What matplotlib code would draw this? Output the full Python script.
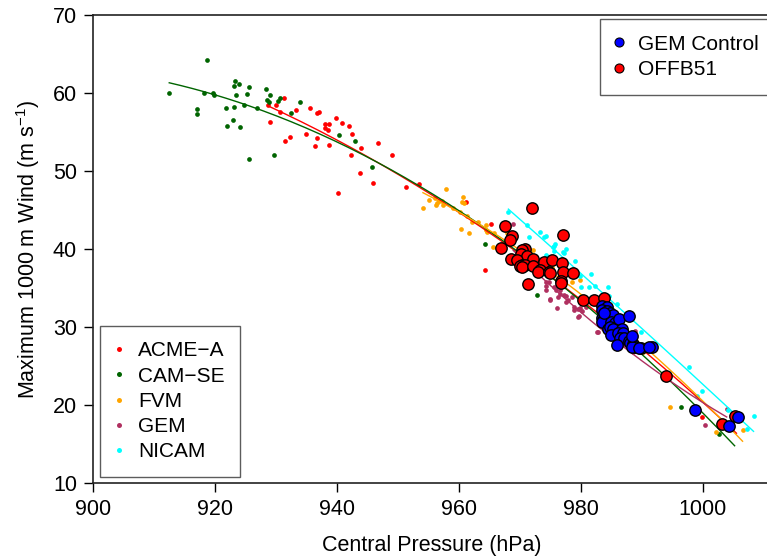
import numpy as np
import matplotlib
matplotlib.use("Agg")
import matplotlib.pyplot as plt
from matplotlib.lines import Line2D

plt.rcParams['font.family'] = ['Liberation Sans', 'DejaVu Sans']
plt.rcParams['mathtext.default'] = 'regular'

# ---- data (Central pressure hPa, max 1000 m wind m/s) ----
acme_x = [928.7, 929.0, 930.0, 930.7, 931.3, 931.4, 932.3, 933.3, 935.0, 935.6, 936.4, 936.8, 936.7, 937.1,
          938.1, 938.7, 938.0, 938.6, 938.7, 939.9, 940.9, 942.0, 942.5, 942.3, 944.0, 940.2, 943.7, 945.9,
          946.7, 949.0, 951.4, 953.4, 961.1, 965.2, 964.2, 999.8, 1005.5,
          970.5, 975.0, 985.0, 988.5]
acme_y = [58.4, 56.3, 58.5, 57.6, 59.4, 53.8, 54.4, 57.8, 54.7, 58.1, 53.2, 54.2, 57.5, 57.6,
          56.0, 56.0, 55.5, 55.3, 53.3, 56.8, 56.1, 55.8, 54.7, 52.0, 53.0, 47.2, 49.7, 48.5,
          53.6, 52.0, 47.9, 48.3, 46.0, 43.2, 37.3, 18.5, 18.4,
          38.6, 37.0, 30.5, 28.0]

cam_x = [912.5, 918.7, 918.2, 919.7, 919.9, 917.1, 917.0, 921.8, 921.9, 923.1, 923.0, 924.1, 923.3,
         923.2, 924.0, 923.4, 925.5, 925.2, 924.8, 925.6, 926.9, 928.4, 928.6, 928.9, 929.1, 929.7,
         930.3, 930.7, 932.4, 934.0, 940.4, 943.0, 945.7, 964.3, 972.8, 996.4, 1002.6,
         985.5, 988.0, 1005.2]
cam_y = [60.0, 64.2, 60.0, 60.0, 59.8, 58.0, 57.3, 58.1, 55.8, 58.2, 56.6, 55.7, 61.5,
         60.9, 61.2, 59.8, 60.8, 59.9, 58.5, 51.5, 58.1, 60.5, 59.1, 58.9, 59.7, 52.1,
         59.0, 59.4, 57.5, 58.9, 54.6, 53.8, 50.5, 40.6, 34.1, 19.7, 16.3,
         29.8, 28.0, 18.6]

fvm_x = [957.8, 960.7, 960.5, 960.8, 954.1, 955.1, 956.1, 956.2, 956.4, 956.8, 957.3, 957.4, 959.1,
         960.2, 961.4, 962.2, 963.1, 960.4, 961.6, 964.5, 964.4, 964.6, 965.8, 965.6, 967.8, 966.6,
         967.4, 972.1, 978.5, 979.8, 975.2, 976.2, 994.6, 1002.2, 1006.5,
         984.5, 986.5, 988.5, 990.2, 1006.0]
fvm_y = [47.7, 46.7, 46.0, 45.9, 45.3, 46.3, 46.6, 45.7, 45.9, 46.1, 46.2, 45.7, 45.2,
         44.7, 44.2, 43.5, 43.5, 42.6, 42.0, 43.1, 42.5, 42.2, 42.1, 40.3, 42.0, 40.3,
         40.8, 39.9, 35.8, 36.0, 37.7, 38.4, 19.7, 16.6, 16.8,
         31.2, 29.8, 28.5, 26.8, 18.7]

gem_x = [968.9, 972.6, 974.2, 974.7, 974.3, 975.6, 976.1, 975.9, 975.0, 976.2, 977.2, 976.1, 977.5,
         977.8, 978.5, 978.8, 979.5, 980.1, 979.6, 982.8, 974.3, 976.5, 976.6, 977.6, 974.9, 978.9,
         979.8, 980.9, 983.9, 986.9, 983.6, 988.6, 988.9, 1000.4, 1003.9, 979.7, 982.7]
gem_y = [43.2, 36.7, 35.8, 35.8, 35.2, 35.1, 35.2, 34.7, 33.6, 33.8, 34.1, 32.5, 33.2,
         33.4, 33.9, 32.2, 32.3, 32.0, 31.3, 29.3, 34.8, 34.8, 34.2, 34.0, 33.5, 32.6,
         32.4, 32.6, 30.4, 27.7, 29.9, 26.8, 29.5, 17.4, 19.5, 31.4, 29.4]

nicam_x = [968.1, 971.2, 971.5, 973.3, 973.9, 974.3, 975.7, 975.5, 975.6, 977.5, 977.3, 974.2, 976.2,
           976.6, 979.1, 979.8, 981.6, 980.0, 981.4, 982.3, 984.5, 984.6, 985.9, 987.5, 989.9, 997.8,
           999.8, 999.1, 1004.1, 1007.2, 1008.3, 975.6, 977.1]
nicam_y = [44.7, 43.1, 41.6, 42.2, 41.5, 41.7, 40.7, 40.2, 40.4, 40.0, 39.5, 39.2, 38.3,
           38.1, 38.5, 36.5, 36.8, 35.1, 35.1, 35.2, 35.1, 34.0, 33.0, 31.7, 29.4, 24.9,
           21.8, 21.2, 19.4, 16.9, 18.6, 39.7, 39.6]

offb_x = [972.0, 977.1, 967.5, 968.7, 968.4, 966.9, 970.8, 970.4, 970.2, 971.1, 968.6, 969.6, 972.2,
          970.4, 970.0, 970.9, 970.4, 972.2, 973.9, 975.2, 976.9, 977.0, 973.3, 973.0, 974.7, 975.0,
          978.7, 976.7, 976.8, 971.3, 980.3, 982.1, 983.8, 994.0, 1005.3, 1003.1]
offb_y = [45.3, 41.8, 42.9, 41.7, 41.2, 40.1, 40.0, 39.9, 39.3, 39.1, 38.7, 38.6, 38.7,
          38.0, 37.8, 37.9, 37.7, 37.8, 38.3, 38.6, 38.2, 37.1, 37.3, 37.1, 37.0, 36.9,
          36.9, 35.9, 35.6, 35.5, 33.4, 33.4, 33.7, 23.7, 18.6, 17.6]

gemc_x = [983.4, 984.2, 983.4, 984.2, 984.8, 985.0, 985.3, 983.4, 983.7, 983.4, 985.0, 985.6, 986.3,
          984.5, 984.8, 985.3, 986.7, 987.8, 985.0, 986.1, 986.9, 986.4, 987.0, 987.8, 988.0, 988.6,
          988.9, 988.3, 985.9, 989.8, 991.6, 983.8, 988.4, 989.5, 991.2, 998.7, 1004.3, 1005.7]
gemc_y = [32.7, 32.6, 32.2, 32.0, 31.8, 31.4, 31.6, 31.2, 30.9, 30.6, 30.7, 30.5, 31.0,
          29.7, 30.0, 29.7, 29.8, 31.4, 29.0, 29.2, 29.2, 28.6, 28.6, 28.2, 27.9, 27.8,
          27.5, 27.5, 27.7, 27.3, 27.5, 31.8, 28.9, 27.3, 27.5, 19.4, 17.3, 18.5]

models = ['ACME\u2212A', 'CAM\u2212SE', 'FVM', 'GEM', 'NICAM']
model_colors = ['#FF0000', '#006400', '#FFA500', '#B03060', '#00FFFF']
model_data = [(acme_x, acme_y), (cam_x, cam_y), (fvm_x, fvm_y), (gem_x, gem_y), (nicam_x, nicam_y)]

x_ticks = [900, 920, 940, 960, 980, 1000]
y_ticks = [10, 20, 30, 40, 50, 60, 70]

FS = 15.5
fig = plt.figure(figsize=(7.67, 5.56), dpi=100)
ax = fig.add_axes([93/767, 73/556, 677/767, 468/556])

for (xs, ys), c in zip(model_data, model_colors):
    ax.plot(xs, ys, 'o', color=c, ms=3.4, mew=0, zorder=2)
for (xs, ys), c in zip(model_data, model_colors):
    xs = np.asarray(xs); ys = np.asarray(ys)
    p = np.polyfit(xs, ys, 2)
    xx = np.linspace(xs.min(), xs.max(), 200)
    ax.plot(xx, np.polyval(p, xx), '-', color=c, lw=1.0, zorder=3)

ax.plot(offb_x, offb_y, 'o', color='#FF0000', mec='black', mew=1.0, ms=8.2, zorder=4)
ax.plot(gemc_x, gemc_y, 'o', color='#0000FF', mec='black', mew=1.0, ms=8.2, zorder=5)

ax.set_xlim(900, 1011)
ax.set_ylim(10, 70)
ax.set_xticks(x_ticks)
ax.set_yticks(y_ticks)
ax.tick_params(direction='out', length=6.5, width=1, labelsize=FS, pad=5, colors='black')
for s in ax.spines.values():
    s.set_linewidth(1.2)
    s.set_color('#222222')
ax.set_xlabel('Central Pressure (hPa)', fontsize=FS, labelpad=11)
ax.set_ylabel('Maximum 1000 m Wind (m s$^{-1}$)', fontsize=FS, labelpad=8)

leg_kw = dict(frameon=True, fancybox=False, fontsize=15, borderpad=0.75, labelspacing=0.3,
              handlelength=0.33, handletextpad=0.75, borderaxespad=0)
h1 = [Line2D([], [], ls='none', marker='o', color=c, ms=3.6, mew=0) for c in model_colors]
leg1 = ax.legend(h1, models, loc='lower left', bbox_to_anchor=(7/677, 6/468), **leg_kw)
leg1.get_frame().set_edgecolor('#333333')
leg1.get_frame().set_linewidth(1.0)
ax.add_artist(leg1)

h2 = [Line2D([], [], ls='none', marker='o', color='#0000FF', mec='black', mew=0.8, ms=6.5),
      Line2D([], [], ls='none', marker='o', color='#FF0000', mec='black', mew=0.8, ms=6.5)]
leg2 = ax.legend(h2, ['GEM Control', 'OFFB51'], loc='upper left',
                 bbox_to_anchor=((600-93)/677, (483-19)/468), **leg_kw)
leg2.get_frame().set_edgecolor('#333333')
leg2.get_frame().set_linewidth(1.0)

fig.savefig('out.png', dpi=100)
